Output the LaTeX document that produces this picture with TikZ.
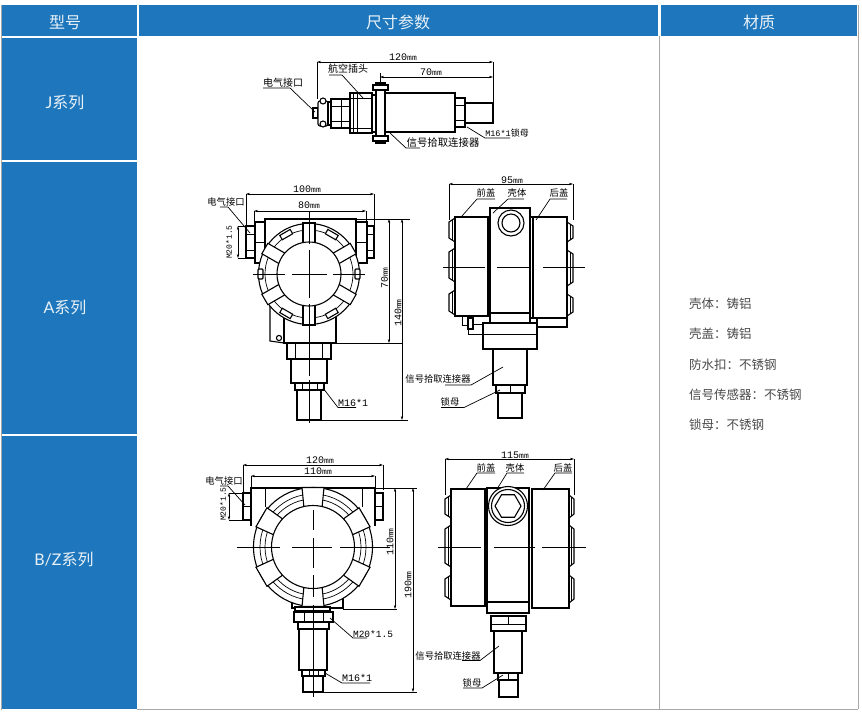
\documentclass[tikz,border=0pt]{standalone}
\usepackage{fontspec}
\usetikzlibrary{arrows.meta}
\setmainfont{Liberation Sans}
\newfontfamily\cjkf{Noto Sans CJK SC}
\newfontfamily\latf{Lato}
\newfontfamily\monof{Liberation Mono}
\definecolor{cellblue}{HTML}{1E77BC}
\definecolor{gridgrey}{HTML}{A8A8A8}
\definecolor{txtgrey}{HTML}{4A4A4A}
\colorlet{headtxt}{white!90!cellblue}
\newcommand\sz[1]{\fontsize{#1}{#1}\selectfont}
\newcommand\mmv[1]{#1{\sz{8}mm}}
\tikzset{
  cell/.style={fill=cellblue,inner sep=0pt},
  headt/.style={text=headtxt,inner sep=0pt,font=\sz{16}\cjkf},
  rowt/.style={text=headtxt,inner sep=0pt,font=\sz{16}\latf},
  lbl/.style={inner sep=0pt,font=\sz{9.3}\cjkf},
  dimtxt/.style={inner sep=0pt,font=\sz{10}\monof},
  smalldim/.style={inner sep=0pt,font=\sz{8}\monof},
  mat/.style={inner sep=0pt,anchor=west,text=txtgrey,font=\sz{12.5}\cjkf},
  lead/.style={line width=.7pt},
  dimln/.style={line width=.5pt,{Stealth[length=4pt,width=2.4pt]}-{Stealth[length=4pt,width=2.4pt]}},
  ext/.style={line width=.5pt},
  part/.style={draw=black,fill=white,line width=1.1pt},
  thin part/.style={draw=black,line width=.7pt},
  axis/.style={line width=.5pt},
}
\newcommand\callout[6]{%
  \node[lbl] (#1) at #2 {#3};
  \coordinate (#1-a) at #4; \coordinate (#1-b) at #5; \coordinate (#1-t) at #6;
  \draw[lead] (#1-a)--(#1-b)--(#1-t);}
\newcommand\dimarrow[3]{%
  \coordinate (#1-a) at #2; \coordinate (#1-b) at #3;
  \draw[dimln] (#1-a)--(#1-b);}
\newcommand\grip[4]{%
  \draw[part] (#1,#3)--(#2,{#3+4})--(#2,{#4-4})--(#1,#4);
  \draw[thin part] ({(#1+#2)/2},{#3+2})--({(#1+#2)/2},{#4-2});}
\begin{document}
\begin{tikzpicture}[x=1pt,y=-1pt]
\useasboundingbox (0,0) rectangle (862,716);
\fill[white] (0,0) rectangle (862,716);
% table
\draw[gridgrey,line width=.8pt] (659.5,36)--(659.5,709) (858,5)--(858,709) (137,709.3)--(858,709.3) (1.5,5)--(1.5,709.5);
\node[cell,minimum width=135pt,minimum height=31pt] (hA) at (69.5,20.5) {};
\node[cell,minimum width=519pt,minimum height=31pt] (hB) at (398.5,20.5) {};
\node[cell,minimum width=196pt,minimum height=31pt] (hC) at (759,20.5) {};
\node[cell,minimum width=135pt,minimum height=122pt] (rJ) at (69.5,99) {};
\node[cell,minimum width=135pt,minimum height=272pt] (rA) at (69.5,298) {};
\node[cell,minimum width=135pt,minimum height=273pt] (rB) at (69.5,572.5) {};
\node[headt] (tA) at (65,22.5) {型号};
\node[headt] (tB) at (398,22.5) {尺寸参数};
\node[headt] (tC) at (759,22.5) {材质};
\node[rowt] (tJ) at (65,102) {J{\cjkf 系列}};
\node[rowt] (tAs) at (65,307.5) {A{\cjkf 系列}};
\node[rowt] (tBs) at (64,559) {B/Z{\cjkf 系列}};
\node[mat] (m1) at (689,304) {壳体：铸铝};
\node[mat] (m2) at (689,334) {壳盖：铸铝};
\node[mat] (m3) at (689,364.5) {防水扣：不锈钢};
\node[mat] (m4) at (689,394.5) {信号传感器：不锈钢};
\node[mat] (m5) at (689,424.5) {锁母：不锈钢};

%%% J series
\draw[part] (313,108) rectangle (318,118);
\draw[part,rounded corners=2pt] (318,101) rectangle (328,126);
\draw[part] (323,101) circle (3);
\draw[part] (323,124) circle (3);
\draw[part] (328,102) rectangle (331,125);
\draw[part] (331,99) rectangle (350,128);
\draw[thin part] (341,99)--(341,128) (331,106)--(350,106) (331,121)--(350,121);
\draw[part] (350,93) rectangle (372,133);
\draw[thin part] (353,93)--(353,133) (357,93)--(357,133) (350,98)--(372,98) (350,128)--(372,128);
\draw[part,line width=1.6pt] (372,95) rectangle (376,132);
\draw[part] (385,93) rectangle (455,132);
\draw[part] (455,98) rectangle (465,127);
\draw[thin part] (455,105)--(465,105) (455,120)--(465,120);
\draw[part] (465,103) rectangle (493,123);
\draw[part] (376,83) rectangle (385,143);
\draw[part] (373,85) rectangle (388,90);
\draw[part] (373,136) rectangle (388,141);
\draw[ext] (317,62)--(317,99) (493,62)--(493,104) (380,73)--(380,84);
\dimarrow{j120}{(317,62)}{(493,62)}
\dimarrow{j70}{(380,77)}{(493,77)}
\node[dimtxt] (j120t) at (403,57) {\mmv{120}};
\node[dimtxt] (j70t) at (431,72) {\mmv{70}};
\callout{jair}{(348,69)}{\sz{10}航空插头}{(329,75)}{(342,75)}{(363,98)}
\callout{jelec}{(283,83)}{\sz{10}电气接口}{(263,88)}{(290,88)}{(315,112)}
\callout{jsig}{(443,143)}{\sz{10.4}信号拾取连接器}{(420,148)}{(406,148)}{(390,133)}
\callout{jm16}{(507,133)}{{\sz{8.5}\monof M16*1}\sz{9}锁母}{(510,138)}{(485,138)}{(467,127)}

%%% A series, front view
\draw[part] (246,226) rectangle (255,258);
\draw[thin part] (246,234)--(255,234) (246,250)--(255,250);
\draw[part] (367,226) rectangle (374,258);
\draw[thin part] (367,234)--(374,234) (367,250)--(374,250);
\draw[part] (255,222) rectangle (265,263);
\draw[part] (356,222) rectangle (367,263);
\draw[thin part] (255,242)--(265,242) (356,242)--(367,242);
\draw[part] (265,263)--(265,219)--(356,219)--(356,263);
\draw[part] (270,306)--(270,341)--(284,343)--(284,306)--cycle;
\draw[part] (279,338) circle (2.6);
\draw[part] (284,310) rectangle (336,343);
\begin{scope}[shift={(309,274)}]
  \draw[part] (0,0) circle (50.5);
  \draw[thin part] (0,0) circle (44);
  \foreach \a in {60,120,240,300} {\draw[part,rotate=\a] (43,-6) rectangle (48,6);}
  \foreach \a in {0,180} {\draw[part,rotate=\a,rounded corners=1pt] (46,-5) rectangle (51,5);}
  \foreach \a in {30,150,210,330,90,270} {\draw[part,rotate=\a] (30,-6) rectangle (51,6);}
  \draw[part] (0,0) circle (32);
\end{scope}
\draw[part] (287,343) rectangle (331,359);
\draw[thin part] (295,343)--(295,359) (322,343)--(322,359);
\draw[part] (291,359) rectangle (327,383);
\draw[part] (295,383) rectangle (324,390);
\draw[thin part] (302,383)--(302,390) (309,383)--(309,390) (317,383)--(317,390);
\draw[part] (297,390) rectangle (321,420);
\draw[axis] (253,274)--(285,274) (292,274)--(327,274) (333,274)--(365,274);
\draw[axis] (309,212)--(309,244) (309,250)--(309,298) (309,304)--(309,376) (309,380)--(309,423);
\draw[ext] (246,194)--(246,225) (374,194)--(374,225) (254,211)--(254,222) (366,211)--(366,222);
\draw[ext] (238,226)--(246,226) (238,258)--(246,258);
\draw[ext] (356,219)--(410,219) (336,343)--(403,343) (321,420)--(408,420);
\dimarrow{a100}{(246,194)}{(374,194)}
\dimarrow{a80}{(254,211)}{(366,211)}
\dimarrow{am20}{(238,226)}{(238,258)}
\dimarrow{a70}{(389,219)}{(389,343)}
\dimarrow{a140}{(402,219)}{(402,420)}
\node[dimtxt] (a100t) at (307,189.5) {\mmv{100}};
\node[dimtxt] (a80t) at (309,205) {\mmv{80}};
\node[smalldim,rotate=90] (am20t) at (229,242) {M20*1.5};
\node[dimtxt,rotate=90] (a70t) at (384.5,278) {\mmv{70}};
\node[dimtxt,rotate=90] (a140t) at (398,313) {\mmv{140}};
\callout{aelec}{(226,202)}{电气接口}{(220,207)}{(228,207)}{(250,233)}
\callout{am16}{(353,403)}{{\sz{10}\monof M16*1}}{(356,407.5)}{(338,407.5)}{(323,388)}

%%% A series, side view
\grip{455}{449}{218}{242}
\grip{455}{449}{248}{282}
\grip{455}{449}{290}{315}
\grip{567}{573}{222}{242}
\grip{567}{573}{250}{286}
\grip{567}{573}{294}{316}
\draw[part] (455,217) rectangle (488,316);
\draw[part] (533,217) rectangle (567,318);
\draw[part] (530,217) rectangle (533,318);
\draw[part] (488,220) rectangle (490,316);
\draw[part] (537,318) rectangle (567,327);
\draw[thin part] (462,316) rectangle (467,325);
\draw[part,line width=1.5pt] (468,318) rectangle (473,329);
\draw[thin part] (473,324)--(483,324) (468,329)--(468,334)--(483,334);
\draw[part,line width=1.5pt] (490,208) rectangle (530,323);
\draw[line width=1.5pt] (490,313)--(530,313);
\draw[part] (511,223) circle (13);
\draw[part] (511,223) circle (9);
\draw[part] (483,323) rectangle (537,349);
\draw[thin part] (483,334)--(537,334);
\draw[part] (493,349) rectangle (527,385);
\draw[part] (496,385) rectangle (525,393);
\draw[thin part] (510,385)--(510,393);
\draw[part] (498,393) rectangle (522,418);
\draw[axis] (443,267)--(485,267) (497,267)--(531,267) (543,267)--(585,267);
\draw[ext] (449,184)--(449,220) (573,184)--(573,220);
\dimarrow{s95}{(449,184)}{(573,184)}
\node[dimtxt] (s95t) at (512,180) {\mmv{95}};
\callout{sfront}{(486,193)}{前盖}{(495,199)}{(477,199)}{(462,216)}
\callout{sshell}{(517,193)}{壳体}{(524,199)}{(508,199)}{(493,213)}
\callout{srear}{(559,193)}{后盖}{(567,199)}{(550,199)}{(536,220)}
\callout{ssig}{(438,379)}{信号拾取连接器}{(445,385)}{(471,385)}{(503,367)}
\callout{snut}{(450,402)}{锁母}{(441,407.5)}{(464,407.5)}{(500,390)}

%%% B series, front view
\draw[part] (243,493) rectangle (251,520);
\draw[thin part] (243,506)--(251,506);
\draw[part] (375,493) rectangle (383,520);
\draw[thin part] (375,506)--(383,506);
\draw[part] (251,526)--(251,488)--(375,488)--(375,526);
\draw[thin part] (265,488)--(265,507) (362,488)--(362,507);
\draw[part] (292,598) rectangle (343,608);
\begin{scope}[shift={(313,547)}]
  \draw[part] (0,0) circle (59.5);
  \draw[thin part] (0,0) circle (53);
  \draw[thin part] (0,0) circle (48);
  \foreach \a in {30,150,210,330,90,270} {\draw[part,rotate=\a] (39,-9)--(59.5,-11)--(59.5,11)--(39,9)--cycle;}
  \draw[part] (0,0) circle (41.5);
\end{scope}
\draw[part] (295,607) rectangle (330,611);
\draw[part] (294,612) rectangle (333,622);
\draw[thin part] (304,612)--(304,622) (323,612)--(323,622);
\draw[part] (298,622) rectangle (329,629);
\draw[part] (299,629) rectangle (327,670);
\draw[part] (302,670) rectangle (325,676);
\draw[thin part] (309,670)--(309,676) (318,670)--(318,676);
\draw[part] (303,676) rectangle (323,692);
\draw[axis] (237,547)--(280,547) (292,547)--(332,547) (340,547)--(390,547);
\draw[axis] (313,510)--(313,530) (313,538)--(313,568) (313,575)--(313,597) (313,605)--(313,697);
\draw[ext] (243,465)--(243,493) (383,465)--(383,490) (251,476)--(251,488) (375,476)--(375,488);
\draw[ext] (229,493)--(243,493) (229,520)--(243,520);
\draw[ext] (375,488)--(417,488) (343,609)--(397,609) (323,692)--(417,692);
\dimarrow{b120}{(243,465)}{(383,465)}
\dimarrow{b110}{(251,476)}{(375,476)}
\dimarrow{bm20}{(229,493)}{(229,520)}
\dimarrow{b110v}{(395,488)}{(395,609)}
\dimarrow{b190}{(413,488)}{(413,692)}
\node[dimtxt] (b120t) at (320,460.5) {\mmv{120}};
\node[dimtxt] (b110t) at (318,471) {\mmv{110}};
\node[smalldim,rotate=90] (bm20t) at (223,504) {M20*1.5};
\node[dimtxt,rotate=90] (b110vt) at (390,542) {\mmv{110}};
\node[dimtxt,rotate=90] (b190t) at (408,585) {\mmv{190}};
\callout{belec}{(224,481)}{电气接口}{(220,486)}{(228,486)}{(245,505)}
\callout{bm20c}{(373,634)}{{\sz{9.5}\monof M20*1.5}}{(367,638)}{(353,638)}{(330,618)}
\callout{bm16}{(357,678)}{{\sz{10}\monof M16*1}}{(370,683)}{(342,683)}{(325,673)}

%%% B series, side view
\grip{451}{445}{495}{518}
\grip{451}{445}{525}{567}
\grip{451}{445}{575}{600}
\grip{569}{574}{495}{518}
\grip{569}{574}{525}{567}
\grip{569}{574}{575}{603}
\draw[part] (451,489) rectangle (485,606);
\draw[part] (532,489) rectangle (569,608);
\draw[part,line width=1.5pt] (487,488) rectangle (529,613);
\draw[line width=1.5pt] (487,602)--(529,602);
\begin{scope}[shift={(508,506)}]
  \draw[part] (0,0) circle (19.5);
  \draw[part] (0,0) circle (16.5);
  \draw[part] (0:13)--(60:13)--(120:13)--(180:13)--(240:13)--(300:13)--cycle;
\end{scope}
\draw[part] (491,616) rectangle (526,631);
\draw[thin part] (491,624)--(526,624) (508,616)--(508,624);
\draw[part] (494,631) rectangle (522,673);
\draw[part] (498,673) rectangle (518,680);
\draw[thin part] (508,673)--(508,680);
\draw[part] (499,680) rectangle (518,697);
\draw[axis] (438,547)--(481,547) (494,547)--(535,547) (542,547)--(586,547);
\draw[ext] (445,459)--(445,495) (574,459)--(574,495);
\dimarrow{t115}{(445,459)}{(574,459)}
\node[dimtxt] (t115t) at (515,455) {\mmv{115}};
\callout{tfront}{(486,468)}{前盖}{(495,473)}{(477,473)}{(466,489)}
\callout{tshell}{(515,468)}{壳体}{(524,473)}{(507,473)}{(497,489)}
\callout{trear}{(563,468)}{后盖}{(572,473)}{(555,473)}{(543,490)}
\callout{tsig}{(448,656)}{信号拾取连接器}{(462,660.5)}{(480,660.5)}{(499,646)}
\callout{tnut}{(472,683)}{锁母}{(463,688)}{(482,688)}{(503,675)}
\end{tikzpicture}
\end{document}
